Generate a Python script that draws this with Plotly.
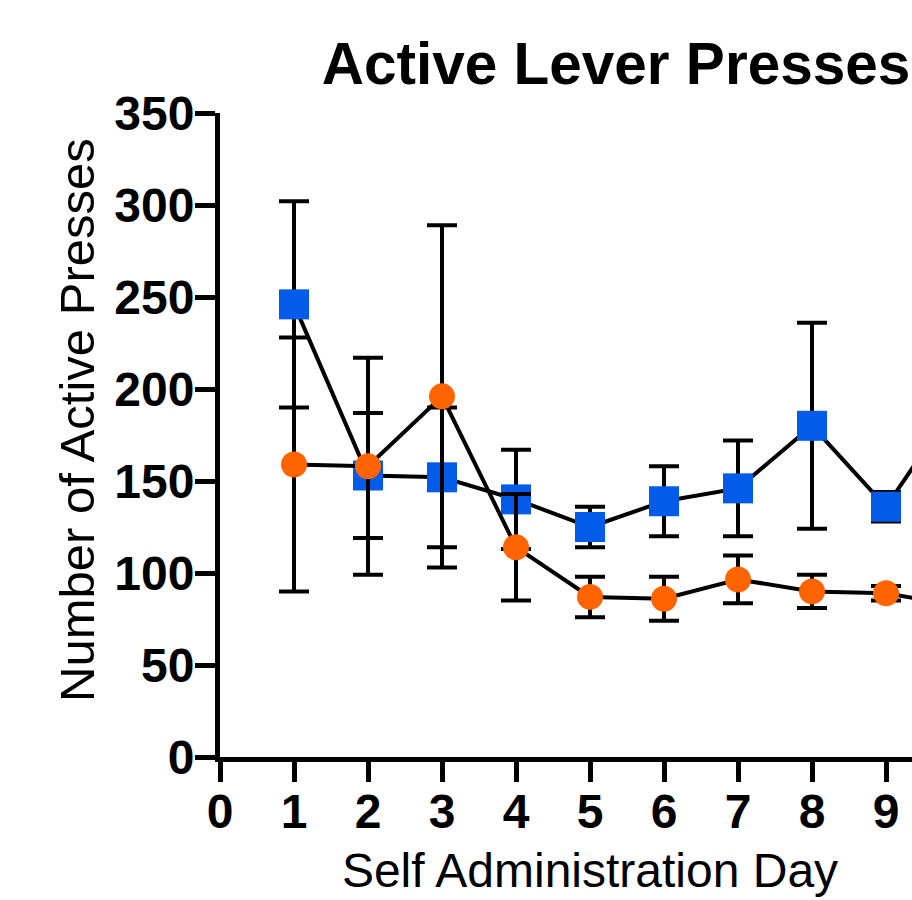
import plotly.graph_objects as go

days = [1, 2, 3, 4, 5, 6, 7, 8, 9, 10]
blue_mean = [246, 153, 152, 140, 125, 139, 146, 180, 136, 195]
blue_err = [56, 34, 38, 27, 11, 19, 26, 56, 8, 20]
orange_mean = [159, 158, 196, 114, 87, 86, 96.5, 90, 89, 82]
orange_err = [69, 59, 93, 29, 11, 12, 13, 9, 4, 8]

x_ticks = list(range(0, 10))
y_ticks = list(range(0, 351, 50))

BLUE = "#035BE9"
ORANGE = "#FF6400"
FONT = "Liberation Sans"

fig = go.Figure()
fig.add_trace(go.Scatter(
    x=days, y=blue_mean, name="Group 1", mode="lines+markers",
    line=dict(color="black", width=4),
    marker=dict(symbol="square", size=30, color=BLUE, line=dict(width=0)),
    error_y=dict(type="data", array=blue_err, visible=True, color="black", thickness=4, width=15),
    cliponaxis=False,
))
fig.add_trace(go.Scatter(
    x=days, y=orange_mean, name="Group 2", mode="lines+markers",
    line=dict(color="black", width=4),
    marker=dict(symbol="circle", size=26, color=ORANGE, line=dict(width=0)),
    error_y=dict(type="data", array=orange_err, visible=True, color="black", thickness=4, width=15),
    cliponaxis=False,
))

fig.update_layout(
    width=1000, height=900,
    margin=dict(l=220, r=40, t=113, b=143, autoexpand=False),
    paper_bgcolor="white", plot_bgcolor="white",
    showlegend=False,
    title=dict(text="<b>Active Lever Presses</b>", x=0.616, xref="container", xanchor="center",
               y=0.929, yref="container", yanchor="middle",
               font=dict(family=FONT, size=58.5, color="black")),
    annotations=[dict(
        text="Number of Active Presses", textangle=-90,
        xref="paper", yref="paper", x=-143 / 740, y=(757 - 420) / 644,
        xanchor="center", yanchor="middle", showarrow=False,
        font=dict(family=FONT, size=49, color="black"),
    )],
)
fig.update_xaxes(
    range=[0, 10], tickvals=x_ticks, ticktext=[str(v) for v in x_ticks],
    showgrid=False, zeroline=False, showline=True, linecolor="black", linewidth=5,
    ticks="outside", ticklen=20, tickwidth=5, tickcolor="black", automargin=False,
    ticklabelstandoff=-12,
    tickfont=dict(family=FONT, size=48, color="black", weight="bold"),
    title=dict(text="Self Administration Day", font=dict(family=FONT, size=48, color="black"), standoff=18),
)
fig.update_yaxes(
    range=[0, 350], tickvals=y_ticks, ticktext=[str(v) for v in y_ticks],
    showgrid=False, zeroline=False, showline=True, linecolor="black", linewidth=5,
    ticks="outside", ticklen=20, tickwidth=5, tickcolor="black", automargin=False,
    ticklabelstandoff=-9,
    tickfont=dict(family=FONT, size=48, color="black", weight="bold"),
)

fig.write_html("out.html")
